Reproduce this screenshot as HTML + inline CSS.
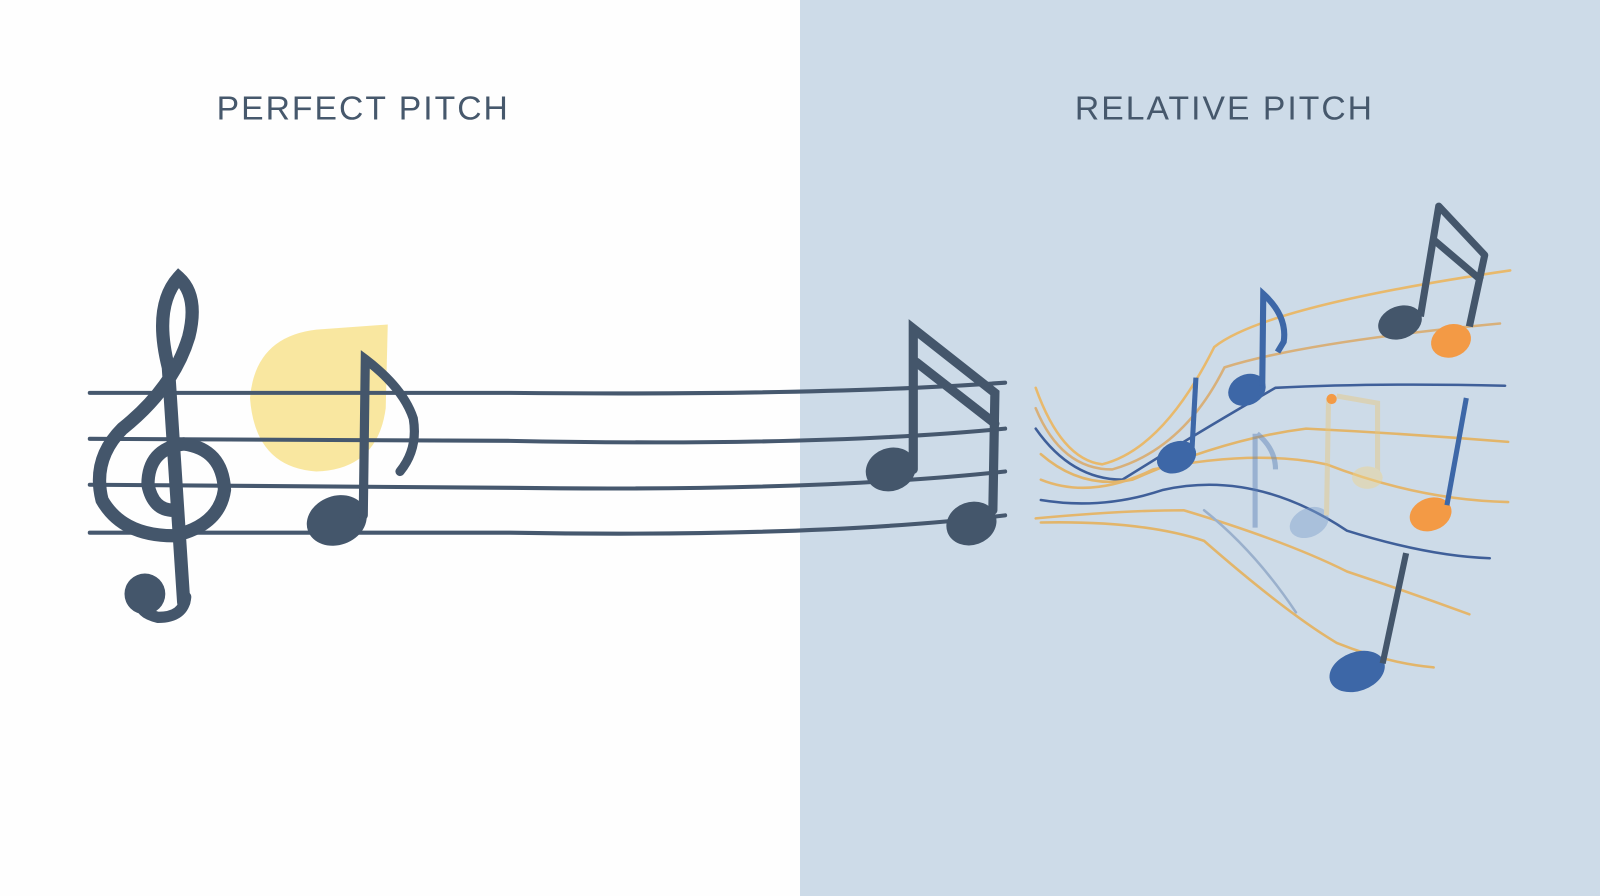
<!DOCTYPE html>
<html><head><meta charset="utf-8"><style>
html,body{margin:0;padding:0;width:1600px;height:896px;overflow:hidden;background:#fff}
svg{display:block}
</style></head><body>
<svg width="1600" height="896" viewBox="0 0 1568 878" preserveAspectRatio="none" xmlns="http://www.w3.org/2000/svg">
<rect x="0" y="0" width="784" height="878" fill="#fefefe"/>
<rect x="784" y="0" width="784" height="878" fill="#cddbe8"/>
<text x="356" y="117" text-anchor="middle" font-family="Liberation Sans, sans-serif" font-size="33" letter-spacing="2" fill="#46586c">PERFECT PITCH</text>
<text x="1200" y="117" text-anchor="middle" font-family="Liberation Sans, sans-serif" font-size="33" letter-spacing="2" fill="#46586c">RELATIVE PITCH</text>
<!-- yellow -->
<path d="M245 390 Q250 330 310 323 L380 318 L378 400 Q370 460 310 462 Q250 458 245 390Z" fill="#f8e496" opacity="0.9"/>
<!-- staff -->
<g stroke="#46586e" stroke-width="4" fill="none" stroke-linecap="round">
<path d="M88 385 L500 385 Q800 388 985 375"/>
<path d="M88 430 L500 432 Q800 438 985 420"/>
<path d="M88 475 L500 478 Q800 482 985 462"/>
<path d="M88 522 L500 522 Q800 527 985 505"/>
</g>
<!-- treble clef -->
<g stroke="#44566b" fill="none" stroke-linecap="round">
<path d="M180 590 L165 360 Q150 300 175 272 Q195 290 185 330 Q170 380 120 420 Q90 450 100 490 Q120 525 170 525 Q215 515 220 480 Q218 440 180 435 Q145 440 145 475 Q150 500 170 500" stroke-width="13"/>
<path d="M182 585 Q180 605 155 605 Q135 600 140 590" stroke-width="11"/>
</g>
<circle cx="142" cy="582" r="20" fill="#44566b"/>
<!-- note left -->
<ellipse cx="330" cy="510" rx="30" ry="24" fill="#44566b" transform="rotate(-20 330 510)"/>
<path d="M356 505 L358 352 Q395 380 405 410 Q410 440 392 462" stroke="#44566b" stroke-width="9" fill="none" stroke-linecap="round"/>
<!-- beamed notes middle -->
<g stroke="#44566b" stroke-width="9" fill="none" stroke-linecap="round">
<path d="M895 460 L895 322 L975 385 L973 500"/>
<path d="M898 355 L975 415"/>
</g>
<ellipse cx="873" cy="460" rx="25" ry="21" fill="#44566b" transform="rotate(-20 873 460)"/>
<ellipse cx="952" cy="513" rx="25" ry="21" fill="#44566b" transform="rotate(-20 952 513)"/>
<!-- right waves -->
<g fill="none" stroke-width="2.5" stroke-linecap="round">
<path d="M1015 380 Q1040 450 1080 455 Q1140 440 1190 340 Q1240 300 1480 265" stroke="#e8b96c"/>
<path d="M1015 400 Q1040 460 1090 460 Q1160 440 1200 360 Q1280 335 1470 317" stroke="#d8b07a"/>
<path d="M1015 420 Q1050 470 1100 470 Q1180 420 1250 380 Q1350 375 1475 378" stroke="#3f5f99"/>
<path d="M1020 445 Q1060 480 1110 470 Q1200 430 1280 420 Q1380 425 1478 433" stroke="#e2b56a"/>
<path d="M1020 470 Q1070 490 1130 460 Q1230 440 1300 455 Q1390 490 1478 492" stroke="#e4b66c"/>
<path d="M1020 490 Q1080 500 1140 480 Q1230 460 1320 520 Q1400 545 1460 547" stroke="#3f5f99"/>
<path d="M1015 508 Q1100 500 1160 500 Q1260 530 1320 560 Q1380 580 1440 602" stroke="#e4b66c"/>
<path d="M1020 512 Q1120 510 1180 530 Q1260 600 1310 630 Q1360 650 1405 654" stroke="#e2b56a"/>
<path d="M1180 500 Q1230 540 1270 600" stroke="#9ab0cc"/>
</g>
<!-- faint notes -->
<g opacity="0.45">
<ellipse cx="1283" cy="512" rx="20" ry="14" fill="#7ea0cc" transform="rotate(-25 1283 512)"/>
<path d="M1300 505 L1302 390 M1310 388 L1350 395 L1350 470" stroke="#e8c880" stroke-width="5" fill="none"/>
<ellipse cx="1340" cy="468" rx="15" ry="11" fill="#f0d48a"/>
<path d="M1230 425 L1230 517 M1232 425 Q1250 440 1250 460" stroke="#5a7fb5" stroke-width="5" fill="none"/>
</g>
<circle cx="1305" cy="391" r="5" fill="#f39a45"/>
<!-- blue notes -->
<ellipse cx="1153" cy="448" rx="20" ry="15" fill="#3d67a7" transform="rotate(-25 1153 448)"/>
<path d="M1168 443 L1172 370" stroke="#3d67a7" stroke-width="5"/>
<ellipse cx="1222" cy="382" rx="19" ry="15" fill="#3d67a7" transform="rotate(-25 1222 382)"/>
<path d="M1237 378 L1238 288 Q1262 310 1258 335 L1252 345" stroke="#3d67a7" stroke-width="6" fill="none"/>
<ellipse cx="1330" cy="658" rx="28" ry="19" fill="#3d67a7" transform="rotate(-20 1330 658)"/>
<path d="M1355 650 L1378 542" stroke="#44566b" stroke-width="6"/>
<!-- top right dark beamed -->
<ellipse cx="1372" cy="316" rx="22" ry="16" fill="#44566b" transform="rotate(-20 1372 316)"/>
<path d="M1392 310 L1410 202 L1455 250 L1440 320 M1405 235 L1452 275" stroke="#44566b" stroke-width="7" fill="none" stroke-linejoin="round"/>
<ellipse cx="1422" cy="334" rx="20" ry="16" fill="#f39a45" transform="rotate(-20 1422 334)"/>
<ellipse cx="1402" cy="504" rx="21" ry="16" fill="#f39a45" transform="rotate(-20 1402 504)"/>
<path d="M1418 495 L1437 390" stroke="#3d67a7" stroke-width="5"/>
</svg>
</body></html>
